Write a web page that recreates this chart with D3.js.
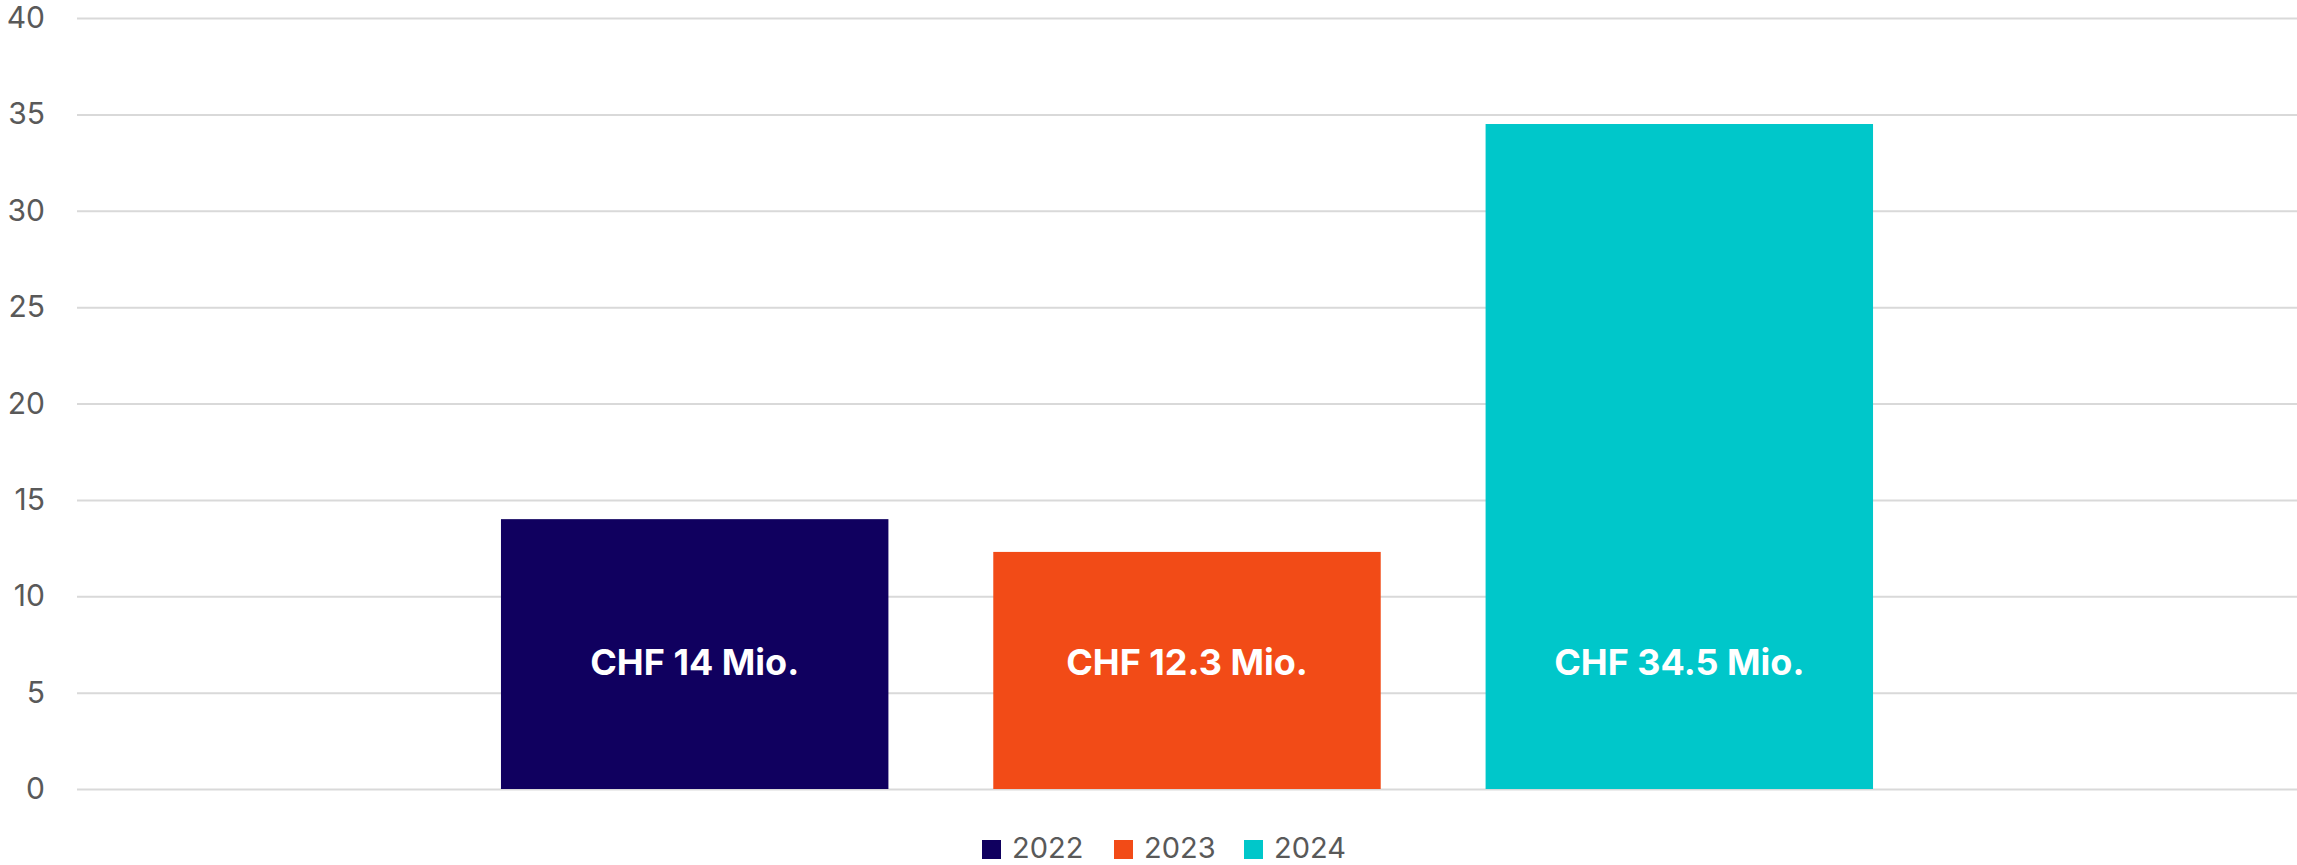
<!DOCTYPE html>
<html>
<head>
<meta charset="utf-8">
<script src="https://cdn.jsdelivr.net/npm/d3@7"></script>
<style>
  html, body { margin: 0; padding: 0; background: #fff; }
  svg { display: block; }
</style>
</head>
<body>
<svg id="chart" width="2297" height="865"></svg>
<script>
const categories = ["Gesamt"];
const series = ["2022", "2023", "2024"];
const values = [14, 12.3, 34.5];
const labels = ["CHF 14 Mio.", "CHF 12.3 Mio.", "CHF 34.5 Mio."];
const colors = ["#10005F", "#F24B17", "#00C7CA"];
const yTicks = [0, 5, 10, 15, 20, 25, 30, 35, 40];
const labelValue = 6.6;

const W = 2297, H = 865;
const margin = { left: 77, right: 0, top: 18, bottom: 76 };
const svg = d3.select("#chart");

const y = d3.scaleLinear().domain([0, 40]).range([H - margin.bottom, margin.top]);
const x0 = d3.scaleBand().domain(categories).range([margin.left, W - margin.right])
  .paddingInner(0).paddingOuter(0.309);
const x1 = d3.scaleBand().domain(series).range([0, x0.bandwidth()])
  .paddingInner(0.213).paddingOuter(0);

// gridlines + tick labels
const yAxis = d3.axisLeft(y).tickValues(yTicks).tickSize(-(W - margin.left - margin.right)).tickPadding(32);
const g = svg.append("g").attr("transform", `translate(${margin.left},0)`).call(yAxis);
g.select(".domain").remove();
g.selectAll(".tick line").attr("stroke", "#d9d9d9").attr("stroke-width", 2);
g.selectAll(".tick text")
  .attr("fill", "#595959")
  .style("font-family", "Inter, 'Open Sans', sans-serif")
  .style("font-size", "30px");

// bars
const cat = categories[0];
const data = series.map((s, i) => ({ s, v: values[i], label: labels[i], color: colors[i] }));
svg.append("g").selectAll("rect").data(data).join("rect")
  .attr("x", d => x0(cat) + x1(d.s))
  .attr("width", x1.bandwidth())
  .attr("y", d => y(d.v))
  .attr("height", d => y(0) - y(d.v))
  .attr("fill", d => d.color);

// labels
svg.append("g").selectAll("text").data(data).join("text")
  .attr("x", d => x0(cat) + x1(d.s) + x1.bandwidth() / 2)
  .attr("y", y(labelValue))
  .attr("text-anchor", "middle")
  .attr("dominant-baseline", "central")
  .attr("fill", "#ffffff")
  .style("font-family", "Inter, 'Open Sans', sans-serif")
  .style("font-weight", "700")
  .style("font-size", "36px")
  .text(d => d.label);

// legend
const legendItemX = [982, 1114, 1244];
const legend = svg.append("g");
const items = legend.selectAll("g").data(data).join("g")
  .attr("transform", (d, i) => `translate(${legendItemX[i]}, 840)`);
items.append("rect").attr("width", 19).attr("height", 19).attr("fill", d => d.color);
items.append("text")
  .attr("x", 30).attr("y", 18)
  .attr("fill", "#595959")
  .style("font-family", "Inter, 'Open Sans', sans-serif")
  .style("font-size", "29px")
  .text(d => d.s);
</script>
</body>
</html>
